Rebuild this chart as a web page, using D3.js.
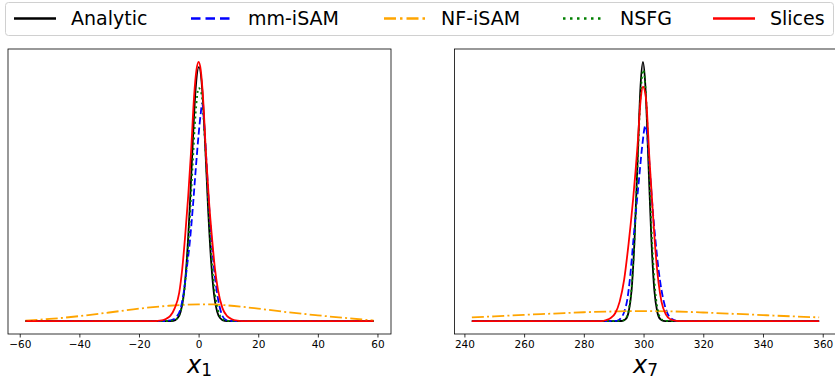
<!DOCTYPE html>
<html>
<head>
<meta charset="utf-8">
<script src="https://cdn.jsdelivr.net/npm/d3@7"></script>
<style>
  body { margin: 0; background: #fff; }
  svg { display: block; font-family: "DejaVu Sans", sans-serif; }
</style>
</head>
<body>
<div id="chart"></div>
<script>
// legend / series labels
var seriesNames = ["Analytic", "mm-iSAM", "NF-iSAM", "NSFG", "Slices"];

// tick labels
var x1Ticks = [-60, -40, -20, 0, 20, 40, 60];
var x7Ticks = [240, 260, 280, 300, 320, 340, 360];

// marginal of x1, [x, density]
var x1Analytic = [[-58.1,0],[-12,0],[-10,0],[-8.5,0.001],[-7,0.012],[-6,0.037],[-5,0.1],[-4,0.23],[-3,0.43],[-2,0.68],[-1,0.895],[0.1,0.98],[1.2,0.895],[2.2,0.68],[3.2,0.43],[4.2,0.23],[5.2,0.1],[6.2,0.037],[7.2,0.012],[8.7,0.001],[10.5,0],[58.7,0]];
var x1MmIsam = [[-58.1,0],[-12,0],[-10.5,0.001],[-9,0.004],[-7.5,0.015],[-6,0.05],[-5,0.11],[-4,0.2],[-3,0.3],[-2,0.43],[-1,0.58],[0,0.72],[0.7,0.8],[1.2,0.84],[2.2,0.7],[3.2,0.5],[4.3,0.32],[5.4,0.18],[6.6,0.08],[7.8,0.025],[9,0.006],[10.5,0.001],[12,0],[58.7,0]];
var x1NfIsam = [[-58.1,0.002],[-50,0.008],[-40,0.019],[-30,0.033],[-20,0.048],[-10,0.059],[0,0.064],[5,0.064],[10,0.06],[20,0.048],[30,0.034],[40,0.022],[50,0.011],[58.7,0.002]];
var x1Nsfg = [[-58.1,0],[-11,0],[-9.5,0.001],[-8,0.004],[-7,0.013],[-6,0.038],[-5,0.096],[-4,0.21],[-3,0.38],[-2,0.6],[-1,0.8],[0,0.9],[1,0.875],[2,0.72],[3,0.51],[4,0.3],[5,0.155],[6,0.068],[7,0.025],[8,0.008],[9.5,0.001],[11,0],[58.7,0]];
var x1Slices = [[-58.1,0],[-16,0],[-13,0.002],[-11,0.008],[-9.5,0.02],[-8,0.05],[-6.5,0.11],[-5.5,0.2],[-4.5,0.33],[-3.5,0.48],[-2.5,0.66],[-1.5,0.87],[-0.7,0.97],[0,1.0],[0.7,0.97],[1.5,0.86],[2.5,0.64],[3.5,0.46],[4.5,0.32],[5.5,0.2],[6.5,0.12],[8,0.05],[9.5,0.02],[11,0.008],[13,0.002],[16,0],[58.7,0]];

// marginal of x7
var x7Analytic = [[242.5,0],[290,0],[292,0.0001],[293,0.001],[294,0.007],[295,0.035],[296,0.12],[297,0.32],[298,0.62],[299,0.91],[299.8,1.0],[300.6,0.91],[301.6,0.62],[302.6,0.32],[303.6,0.12],[304.6,0.035],[305.6,0.007],[306.6,0.001],[308,0],[358.8,0]];
var x7MmIsam = [[242.5,0],[289,0],[291,0.001],[292.5,0.012],[293.5,0.035],[294.5,0.08],[295.5,0.17],[296.5,0.3],[297.5,0.43],[298.5,0.55],[299.5,0.67],[300.6,0.754],[301.3,0.71],[302,0.6],[303,0.44],[304,0.31],[305,0.2],[306,0.12],[307,0.065],[308,0.03],[309.5,0.008],[311,0.001],[313,0],[358.8,0]];
var x7NfIsam = [[242.5,0.014],[250,0.018],[260,0.024],[270,0.029],[280,0.034],[290,0.037],[300,0.0385],[310,0.037],[320,0.033],[330,0.028],[340,0.023],[350,0.018],[358.8,0.014]];
var x7Nsfg = [[242.5,0],[291,0],[292.9,0.0016],[293.9,0.0085],[294.9,0.036],[295.9,0.118],[296.9,0.297],[297.9,0.573],[298.9,0.85],[299.9,0.97],[300.9,0.85],[301.9,0.573],[302.9,0.297],[303.9,0.118],[304.9,0.036],[305.9,0.0085],[306.9,0.0016],[309,0],[358.8,0]];
var x7Slices = [[242.5,0],[286,0],[287.5,0.004],[289,0.012],[290.5,0.03],[292,0.075],[293.5,0.16],[295,0.3],[296.5,0.47],[298,0.68],[299,0.85],[299.8,0.905],[300.8,0.86],[302,0.62],[303,0.44],[304,0.27],[305,0.15],[306,0.075],[307.5,0.025],[309,0.007],[311,0.001],[313,0],[358.8,0]];

var width = 835, height = 383;
var styles = [
  {color: "black", dash: null},
  {color: "blue", dash: "7,3.2"},
  {color: "orange", dash: "12,3.2,2,3.2"},
  {color: "green", dash: "2,3.2"},
  {color: "red", dash: null}
];

var svg = d3.select("#chart").append("svg")
    .attr("width", width)
    .attr("height", height);

function drawPanel(box, series, ticks, sub) {
    var all = d3.merge(series);
    var xExt = d3.extent(all, function(d) { return d[0]; });
    var yMax = d3.max(all, function(d) { return d[1]; });
    var xPad = (xExt[1] - xExt[0]) * 0.05;

    var x = d3.scaleLinear()
        .domain([xExt[0] - xPad, xExt[1] + xPad])
        .range([box.left, box.right]);
    var y = d3.scaleLinear()
        .domain([-0.05 * yMax, 1.05 * yMax])
        .range([box.bottom, box.top]);

    var g = svg.append("g");

    var line = d3.line()
        .x(function(d) { return x(d[0]); })
        .y(function(d) { return y(d[1]); })
        .curve(d3.curveMonotoneX);

    var clipId = "clip" + sub;
    g.append("clipPath").attr("id", clipId)
      .append("rect")
        .attr("x", box.left).attr("y", box.top)
        .attr("width", box.right - box.left).attr("height", box.bottom - box.top);

    series.forEach(function(s, i) {
        g.append("path")
            .attr("clip-path", "url(#" + clipId + ")")
            .attr("d", line(s))
            .attr("fill", "none")
            .attr("stroke", styles[i].color)
            .attr("stroke-width", 1.8)
            .attr("stroke-dasharray", styles[i].dash);
    });

    var axis = g.append("g")
        .attr("transform", "translate(0," + box.bottom + ")")
        .call(d3.axisBottom(x).tickValues(ticks).tickSize(3.5).tickPadding(3.5));
    axis.select(".domain").remove();
    axis.selectAll(".tick line").attr("stroke", "#000").attr("stroke-width", 0.8);
    axis.selectAll(".tick text")
        .attr("font-family", "DejaVu Sans")
        .attr("font-size", 10.5)
        .attr("fill", "#000");

    g.append("rect")
        .attr("x", box.left).attr("y", box.top)
        .attr("width", box.right - box.left).attr("height", box.bottom - box.top)
        .attr("fill", "none")
        .attr("stroke", "#000")
        .attr("stroke-width", 0.8);

    var label = g.append("text")
        .attr("x", (box.left + box.right) / 2)
        .attr("y", 373)
        .attr("text-anchor", "middle")
        .attr("font-family", "DejaVu Sans");
    label.append("tspan").attr("font-style", "italic").attr("font-size", 24).text("x");
    label.append("tspan").attr("font-size", 17).attr("dy", 3).text(sub);
}

drawPanel({left: 8, right: 391, top: 49, bottom: 334},
    [x1Analytic, x1MmIsam, x1NfIsam, x1Nsfg, x1Slices], x1Ticks, "1");
drawPanel({left: 454.5, right: 836.5, top: 49, bottom: 334},
    [x7Analytic, x7MmIsam, x7NfIsam, x7Nsfg, x7Slices], x7Ticks, "7");

// legend across the top
var legend = svg.append("g");
legend.append("rect")
    .attr("x", 5.5).attr("y", 2.5)
    .attr("width", 828).attr("height", 33)
    .attr("rx", 3)
    .attr("fill", "#fff")
    .attr("stroke", "#d0d0d0")
    .attr("stroke-width", 1);

var legendX = [14, 191, 384, 563, 713];
var legendDash = [null, "9.5,5", "12,4,2.5,4", "2.5,4.5", null];
seriesNames.forEach(function(name, i) {
    var item = legend.append("g").attr("transform", "translate(" + legendX[i] + ",18.5)");
    item.append("line")
        .attr("x1", 0).attr("x2", 42)
        .attr("stroke", styles[i].color)
        .attr("stroke-width", 2.5)
        .attr("stroke-dasharray", legendDash[i]);
    item.append("text")
        .attr("x", 57)
        .attr("dy", "0.35em")
        .attr("font-size", 19)
        .attr("fill", "#000")
        .text(name);
});
</script>
</body>
</html>
